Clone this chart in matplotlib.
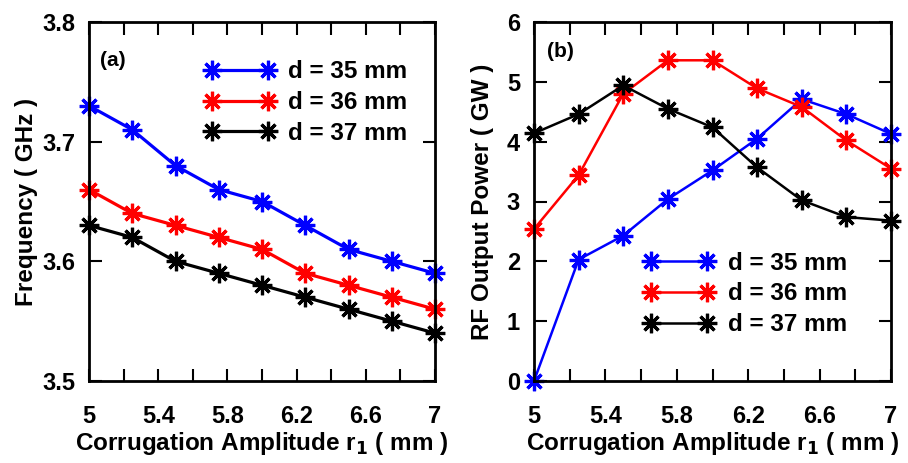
import matplotlib
matplotlib.use("Agg")
import matplotlib.pyplot as plt
from matplotlib.ticker import MultipleLocator, FixedLocator

plt.rcParams['font.family'] = ['Liberation Sans', 'DejaVu Sans']
plt.rcParams['font.weight'] = 'bold'

r1 = [5, 5.25, 5.5, 5.75, 6, 6.25, 6.5, 6.75, 7]
labels = ['d = 35 mm', 'd = 36 mm', 'd = 37 mm']
colors = ['#0000ff', '#ff0000', '#000000']

freq_35 = [3.73, 3.71, 3.68, 3.66, 3.65, 3.63, 3.61, 3.60, 3.59]
freq_36 = [3.66, 3.64, 3.63, 3.62, 3.61, 3.59, 3.58, 3.57, 3.56]
freq_37 = [3.63, 3.62, 3.60, 3.59, 3.58, 3.57, 3.56, 3.55, 3.54]

pow_35 = [0.0, 2.03, 2.43, 3.04, 3.52, 4.05, 4.71, 4.46, 4.13]
pow_36 = [2.54, 3.44, 4.80, 5.36, 5.36, 4.89, 4.58, 4.02, 3.55]
pow_37 = [4.14, 4.46, 4.94, 4.55, 4.24, 3.57, 3.02, 2.74, 2.68]

xticks = [5, 5.4, 5.8, 6.2, 6.6, 7]
xticklabels = ['5', '5.4', '5.8', '6.2', '6.6', '7']

FS_TICK = 17
FS_LAB = 17.5
FS_LEG = 17.5

fig = plt.figure(figsize=(9.08, 4.63), dpi=100)
axa = fig.add_axes([89/908, 1-381/463, 346/908, 359/463])
axb = fig.add_axes([534/908, 1-381/463, 357/908, 359/463])

marker = (8, 2, 0)

def style(ax, ylab_x):
    ax.set_xlim(5, 7)
    ax.xaxis.set_major_locator(FixedLocator(xticks))
    ax.set_xticklabels(xticklabels)
    ax.xaxis.set_minor_locator(MultipleLocator(0.2))
    ax.tick_params(which='both', direction='in', top=True, right=True,
                   length=9, width=1.5, labelsize=FS_TICK)
    ax.tick_params(axis='x', which='both', pad=17)
    ax.tick_params(axis='y', which='both', pad=10)
    for s in ax.spines.values():
        s.set_linewidth(2)
    for t in ax.get_xticklabels() + ax.get_yticklabels():
        t.set_fontweight('bold')
    ax.set_xlabel('Corrugation Amplitude r$_\\mathbf{1}$ ( mm )', fontsize=FS_LAB,
                  fontweight='bold', labelpad=2)
    ax.yaxis.set_label_coords(ylab_x, 0.5)

for ys, c, l in zip([freq_35, freq_36, freq_37], colors, labels):
    axa.plot(r1, ys, color=c, lw=2.3, marker=marker, ms=14, mew=2.3, label=l,
             clip_on=False)
axa.set_ylim(3.5, 3.8)
axa.set_yticks([3.5, 3.6, 3.7, 3.8])
axa.set_yticklabels(['3.5', '3.6', '3.7', '3.8'])
axa.set_ylabel('Frequency ( GHz )', fontsize=FS_LAB, fontweight='bold')
style(axa, -0.147)
axa.text(0.033, 0.893, '(a)', transform=axa.transAxes, fontsize=15,
         fontweight='bold', va='center')
la = axa.legend(loc='upper right', bbox_to_anchor=(0.92, 0.893), frameon=False,
                numpoints=2, fontsize=FS_LEG, handlelength=2.9, handletextpad=0.55,
                labelspacing=0.32, borderaxespad=0, borderpad=0)

for ys, c, l in zip([pow_35, pow_36, pow_37], colors, labels):
    axb.plot(r1, ys, color=c, lw=1.8, marker=marker, ms=14, mew=2.3, label=l,
             clip_on=False)
axb.set_ylim(0, 6)
axb.set_yticks([0, 1, 2, 3, 4, 5, 6])
axb.set_yticklabels(['0', '1', '2', '3', '4', '5', '6'])
axb.set_ylabel('RF Output Power ( GW )', fontsize=FS_LAB, fontweight='bold')
style(axb, -0.112)
axb.text(0.036, 0.917, '(b)', transform=axb.transAxes, fontsize=15,
         fontweight='bold', va='center')
lb = axb.legend(loc='lower right', bbox_to_anchor=(0.877, 0.125), frameon=False,
                numpoints=2, fontsize=FS_LEG, handlelength=2.9, handletextpad=0.55,
                labelspacing=0.32, borderaxespad=0, borderpad=0)

for lg in (la, lb):
    for t in lg.get_texts():
        t.set_fontweight('bold')

fig.savefig('out.png', dpi=100)
